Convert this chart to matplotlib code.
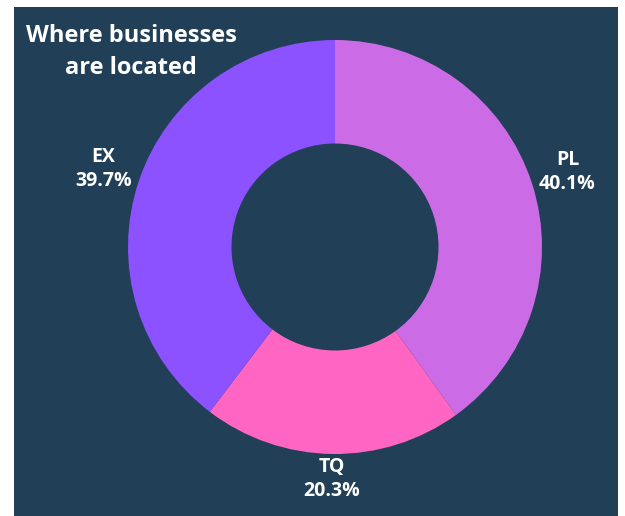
import matplotlib.pyplot as plt
from matplotlib.patches import Rectangle
import numpy as np

# Share of businesses by location
regions = ["PL", "TQ", "EX"]
shares = [40.1, 20.3, 39.7]
colors = ["#cb6ce6", "#ff66c4", "#8c52ff"]
label_dist = [1.18, 1.12, 1.18]

BG = "#213f56"
W, H = 625, 516

fig = plt.figure(figsize=(W / 100, H / 100), dpi=100)
fig.patch.set_facecolor("white")

# dark panel behind everything
fig.add_artist(Rectangle((14 / W, 0), (618 - 14) / W, (H - 7) / H,
                         transform=fig.transFigure, facecolor=BG,
                         edgecolor="none", zorder=0))

# donut centre and radius in pixels
cx, cy, r = 335, 247, 207
k = 1.35
ax = fig.add_axes([(cx - r * k) / W, (H - cy - r * k) / H, 2 * r * k / W, 2 * r * k / H])

wedges, _ = ax.pie(shares, colors=colors, startangle=90, counterclock=False,
                   radius=1.0, wedgeprops=dict(width=0.5, linewidth=0))
# pie() resets the limits, so set them afterwards
ax.set_xlim(-k, k)
ax.set_ylim(-k, k)
ax.set_aspect("equal")
ax.axis("off")

for w, name, val, d in zip(wedges, regions, shares, label_dist):
    ang = np.deg2rad((w.theta1 + w.theta2) / 2)
    ax.text(d * np.cos(ang), d * np.sin(ang), f"{name}\n{val:.1f}%",
            ha="center", va="center", color="white", fontsize=14,
            family="Open Sans", fontweight="bold", linespacing=1.25)

fig.text(131 / W, 1 - 52 / H, "Where businesses\nare located", ha="center",
         va="center", color="white", fontsize=17, family="Open Sans",
         fontweight="bold", linespacing=1.4)

fig.savefig("out.png", dpi=100, facecolor=fig.get_facecolor())
